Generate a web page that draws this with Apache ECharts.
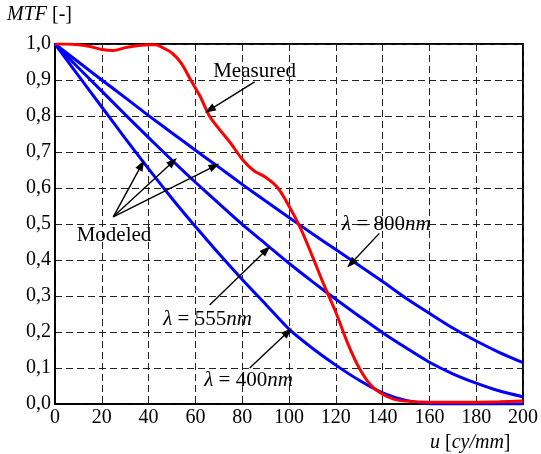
<!DOCTYPE html>
<html>
<head>
<meta charset="utf-8">
<script src="https://cdn.jsdelivr.net/npm/echarts@6/dist/echarts.min.js"></script>
<style>
  html, body { margin: 0; padding: 0; background: #fff; }
  #main { width: 541px; height: 454px; }
</style>
</head>
<body>
<div id="main"></div>
<script>
// spatial frequency u [cy/mm] for the modeled curves
var uModel = [0, 10, 20, 30, 40, 50, 60, 70, 80, 90, 100, 110, 120, 130, 140, 150, 160, 170, 180, 190, 200];
// modeled MTF
var mtf400 = [1.0, 0.912, 0.825, 0.738, 0.653, 0.571, 0.493, 0.418, 0.346, 0.277, 0.208, 0.155, 0.108, 0.066, 0.031, 0.01, 0.001, 0, 0, 0, 0];
var mtf555 = [1.0, 0.934, 0.869, 0.804, 0.74, 0.677, 0.616, 0.557, 0.499, 0.445, 0.391, 0.34, 0.291, 0.244, 0.198, 0.156, 0.116, 0.084, 0.058, 0.036, 0.02];
var mtf800 = [1.0, 0.95, 0.9, 0.851, 0.801, 0.753, 0.705, 0.658, 0.61, 0.564, 0.518, 0.473, 0.429, 0.385, 0.34, 0.294, 0.252, 0.211, 0.175, 0.143, 0.115];
// measured curve
var uMeas = [0, 5, 10, 15, 20, 25, 30, 35, 40, 43, 46, 50, 54, 58, 62, 66, 70, 75, 80, 85, 90, 95, 100, 105, 110, 115, 120, 125, 130, 135, 140, 145, 150, 160, 170, 180, 190, 200];
var mtfMeas = [1.0, 1.0, 0.998, 0.993, 0.985, 0.982, 0.99, 0.995, 0.998, 0.998, 0.99, 0.975, 0.946, 0.9, 0.855, 0.8, 0.765, 0.725, 0.68, 0.648, 0.63, 0.602, 0.55, 0.487, 0.41, 0.33, 0.255, 0.17, 0.1, 0.052, 0.027, 0.013, 0.008, 0.005, 0.005, 0.005, 0.006, 0.008];
var yTicks = ['0,0', '0,1', '0,2', '0,3', '0,4', '0,5', '0,6', '0,7', '0,8', '0,9', '1,0'];

function pairs(xs, ys) {
  return xs.map(function (x, i) { return [x, ys[i]]; });
}

var serif = 'Liberation Serif';

// arrows [from, to] in data coordinates
var arrows = [
  [[85.3, 0.895], [66.1, 0.817]],
  [[24.9, 0.52], [37, 0.664]],
  [[24.9, 0.52], [50.4, 0.673]],
  [[24.9, 0.52], [68.2, 0.661]],
  [[66.1, 0.275], [90.3, 0.428]],
  [[83.2, 0.1], [99.5, 0.2]],
  [[138.6, 0.474], [126.5, 0.39]]
];

var notes = [
  { coord: [85.3, 0.925], text: 'Measured' },
  { coord: [25.2, 0.469], text: 'Modeled' },
  { coord: [65.2, 0.236], text: '{i|λ} = 555{i|nm}' },
  { coord: [82.7, 0.064], text: '{i|λ} = 400{i|nm}' },
  { coord: [141.6, 0.5], text: '{i|λ} = 800{i|nm}' }
];

var chart = echarts.init(document.getElementById('main'));

var blue = { type: 'line', smooth: 0.25, symbol: 'none', lineStyle: { color: '#0000ff', width: 3 } };

var option = {
  animation: false,
  grid: {
    left: 55, right: 17, top: 44, bottom: 50,
    show: true, borderColor: '#000', borderWidth: 2
  },
  xAxis: {
    type: 'value', min: 0, max: 200, interval: 20,
    axisLine: { lineStyle: { color: '#000', width: 1.5 } },
    axisTick: { show: false },
    axisLabel: { color: '#000', fontFamily: serif, fontSize: 20, margin: 4 },
    splitLine: { lineStyle: { color: '#222', type: [7, 4], width: 1 } }
  },
  yAxis: {
    type: 'value', min: 0, max: 1, interval: 0.1,
    axisLine: { show: true, lineStyle: { color: '#000', width: 1.5 } },
    axisTick: { show: false },
    axisLabel: {
      color: '#000', fontFamily: serif, fontSize: 20, margin: 4,
      formatter: function (v) { return yTicks[Math.round(v * 10)]; }
    },
    splitLine: { lineStyle: { color: '#222', type: [7, 4], width: 1 } }
  },
  graphic: [
    {
      type: 'text', left: 7, top: 5,
      style: {
        text: '{i|MTF} [-]', fill: '#000', font: '20px ' + serif,
        rich: { i: { fontStyle: 'italic', fontFamily: serif, fontSize: 20 } }
      }
    },
    {
      type: 'text', left: 430, top: 433,
      style: {
        text: '{i|u} [{i|cy/mm}]', fill: '#000', font: '20px ' + serif,
        rich: { i: { fontStyle: 'italic', fontFamily: serif, fontSize: 20 } }
      }
    }
  ],
  series: [
    Object.assign({ data: pairs(uModel, mtf400) }, blue),
    Object.assign({ data: pairs(uModel, mtf555) }, blue),
    Object.assign({ data: pairs(uModel, mtf800) }, blue),
    { type: 'line', data: pairs(uMeas, mtfMeas), smooth: 0.3, symbol: 'none', lineStyle: { color: '#ff0000', width: 3 } },
    {
      type: 'line', data: [], symbol: 'none',
      markLine: {
        silent: true,
        symbol: ['none', 'triangle'],
        symbolSize: [8, 11],
        label: { show: false },
        itemStyle: { color: '#000' },
        lineStyle: { color: '#000', width: 1.4, type: 'solid' },
        emphasis: { disabled: true },
        data: arrows.map(function (a) { return [{ coord: a[0] }, { coord: a[1] }]; })
      },
      markPoint: {
        silent: true,
        symbol: 'circle',
        symbolSize: 0,
        label: {
          show: true, position: 'inside', color: '#000',
          fontFamily: serif, fontSize: 21,
          formatter: function (p) { return p.name; },
          rich: { i: { fontStyle: 'italic', fontFamily: serif, fontSize: 21, color: '#000' } }
        },
        data: notes.map(function (n) { return { coord: n.coord, name: n.text }; })
      }
    }
  ]
};

chart.setOption(option);
</script>
</body>
</html>
